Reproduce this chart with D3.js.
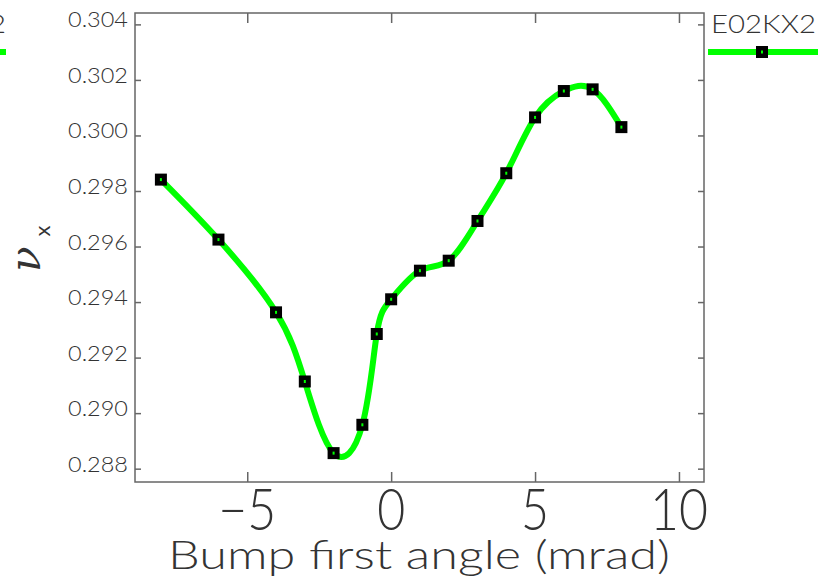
<!DOCTYPE html>
<html>
<head>
<meta charset="utf-8">
<script src="https://cdn.jsdelivr.net/npm/d3@7"></script>
<style>
  html, body { margin: 0; padding: 0; background: #fff; }
  svg { display: block; }
</style>
</head>
<body>
<svg id="chart" width="827" height="582"></svg>
<script>
// ---- data ----
const angles = [-8, -6, -4, -3, -2, -1, -0.5, 0, 1, 2, 3, 4, 5, 6, 7, 8];
const tunes  = [0.29841, 0.29625, 0.29363, 0.29114, 0.28856, 0.28958, 0.29285, 0.29410,
                0.29513, 0.29549, 0.29692, 0.29864, 0.30065, 0.30160, 0.30166, 0.30030];
const xTickValues = [-5, 0, 5, 10];
const yTickValues = [0.288, 0.290, 0.292, 0.294, 0.296, 0.298, 0.300, 0.302, 0.304];
const seriesName = "E02KX2";
const xTitle = "Bump first angle (mrad)";

// ---- layout ----
const svg = d3.select("#chart");
const L = 135, R = 704, T = 13, B = 482;
const x = d3.scaleLinear().domain([-8.9, 10.87]).range([L, R]);
const y = d3.scaleLinear().domain([0.28752, 0.30441]).range([B, T]);
const green = "#00ff00";
const frameCol = "#666";
const textCol = "#333";
const font = "Lato, 'Liberation Sans', sans-serif";

// frame
svg.append("rect").attr("x", L).attr("y", T).attr("width", R - L).attr("height", B - T)
  .attr("fill", "none").attr("stroke", frameCol).attr("stroke-width", 1.5);

// axes built with d3 axis generators (ticks inward)
const fmtY = d3.format(".3f");
const axLeft = svg.append("g").attr("transform", `translate(${L},0)`)
  .call(d3.axisRight(y).tickValues(yTickValues).tickSize(6).tickFormat(""));
const axRight = svg.append("g").attr("transform", `translate(${R},0)`)
  .call(d3.axisLeft(y).tickValues(yTickValues).tickSize(6).tickFormat(""));
const axBottom = svg.append("g").attr("transform", `translate(0,${B})`)
  .call(d3.axisTop(x).tickValues(xTickValues).tickSize(10).tickFormat(""));
const axTop = svg.append("g").attr("transform", `translate(0,${T})`)
  .call(d3.axisBottom(x).tickValues(xTickValues).tickSize(10).tickFormat(""));
[axLeft, axRight, axBottom, axTop].forEach(g => {
  g.select(".domain").remove();
  g.selectAll("line").attr("stroke", frameCol).attr("stroke-width", 1.5);
});

// y tick labels
svg.append("g").selectAll("text").data(yTickValues).join("text")
  .attr("x", 128).attr("y", d => y(d) + 3)
  .attr("text-anchor", "end")
  .attr("font-family", font).attr("font-weight", 300)
  .attr("font-size", 21).attr("fill", textCol)
  .attr("textLength", 60).attr("lengthAdjust", "spacingAndGlyphs")
  .text(d => fmtY(d));

// x tick labels
const xLabel = d => d < 0 ? "\u2212" + Math.abs(d) : String(d);
svg.append("g").selectAll("text").data(xTickValues).join("text")
  .attr("x", d => x(d)).attr("y", 530)
  .attr("text-anchor", "middle")
  .attr("font-family", font).attr("font-weight", 300)
  .attr("font-size", 58).attr("fill", textCol)
  .attr("textLength", d => xLabel(d).length === 1 ? 28 : 58).attr("lengthAdjust", "spacingAndGlyphs")
  .text(xLabel);

// x title
svg.append("text").attr("x", 168).attr("y", 569)
  .attr("font-family", font).attr("font-weight", 300)
  .attr("font-size", 40).attr("fill", textCol)
  .attr("textLength", 502).attr("lengthAdjust", "spacingAndGlyphs")
  .text(xTitle);

// y title: nu_x rotated
const yt = svg.append("text").attr("transform", "translate(40,272) rotate(-90)")
  .attr("font-family", "'DejaVu Serif', serif").attr("fill", textCol);
yt.append("tspan").attr("font-size", 42).attr("font-style", "italic").text("\u03BD");
yt.append("tspan").attr("font-size", 22).attr("dy", 10).attr("dx", 10)
  .attr("font-family", font).text("x");

// ---- curve ----
const pts = angles.map((a, i) => [a, tunes[i]]);
const line = d3.line().x(d => x(d[0])).y(d => y(d[1])).curve(d3.curveNatural);
svg.append("path").attr("d", line(pts))
  .attr("fill", "none").attr("stroke", green).attr("stroke-width", 6)
  .attr("stroke-linecap", "round").attr("stroke-linejoin", "round");

// markers
const mk = svg.append("g").selectAll("g").data(pts).join("g")
  .attr("transform", d => `translate(${x(d[0])},${y(d[1])})`);
mk.append("rect").attr("x", -6).attr("y", -6).attr("width", 12).attr("height", 12).attr("fill", "#000");
mk.append("rect").attr("x", -1).attr("y", -1.5).attr("width", 2).attr("height", 3).attr("fill", green);

// ---- legend (right) ----
svg.append("text").attr("x", 711).attr("y", 33)
  .attr("font-family", font).attr("font-weight", 300)
  .attr("font-size", 25).attr("fill", textCol)
  .attr("textLength", 105).attr("lengthAdjust", "spacingAndGlyphs")
  .text(seriesName);
svg.append("line").attr("x1", 708).attr("x2", 818).attr("y1", 52).attr("y2", 52)
  .attr("stroke", green).attr("stroke-width", 6);
const lm = svg.append("g").attr("transform", "translate(762,52)");
lm.append("rect").attr("x", -6).attr("y", -6).attr("width", 12).attr("height", 12).attr("fill", "#000");
lm.append("rect").attr("x", -1).attr("y", -1.5).attr("width", 2).attr("height", 3).attr("fill", green);

// ---- cut-off legend of neighbouring panel (left edge) ----
svg.append("text").attr("x", 6).attr("y", 33).attr("text-anchor", "end")
  .attr("font-family", font).attr("font-weight", 300)
  .attr("font-size", 25).attr("fill", textCol)
  .attr("textLength", 105).attr("lengthAdjust", "spacingAndGlyphs")
  .text(seriesName);
svg.append("line").attr("x1", -110).attr("x2", 6).attr("y1", 52).attr("y2", 52)
  .attr("stroke", green).attr("stroke-width", 6);
</script>
</body>
</html>
